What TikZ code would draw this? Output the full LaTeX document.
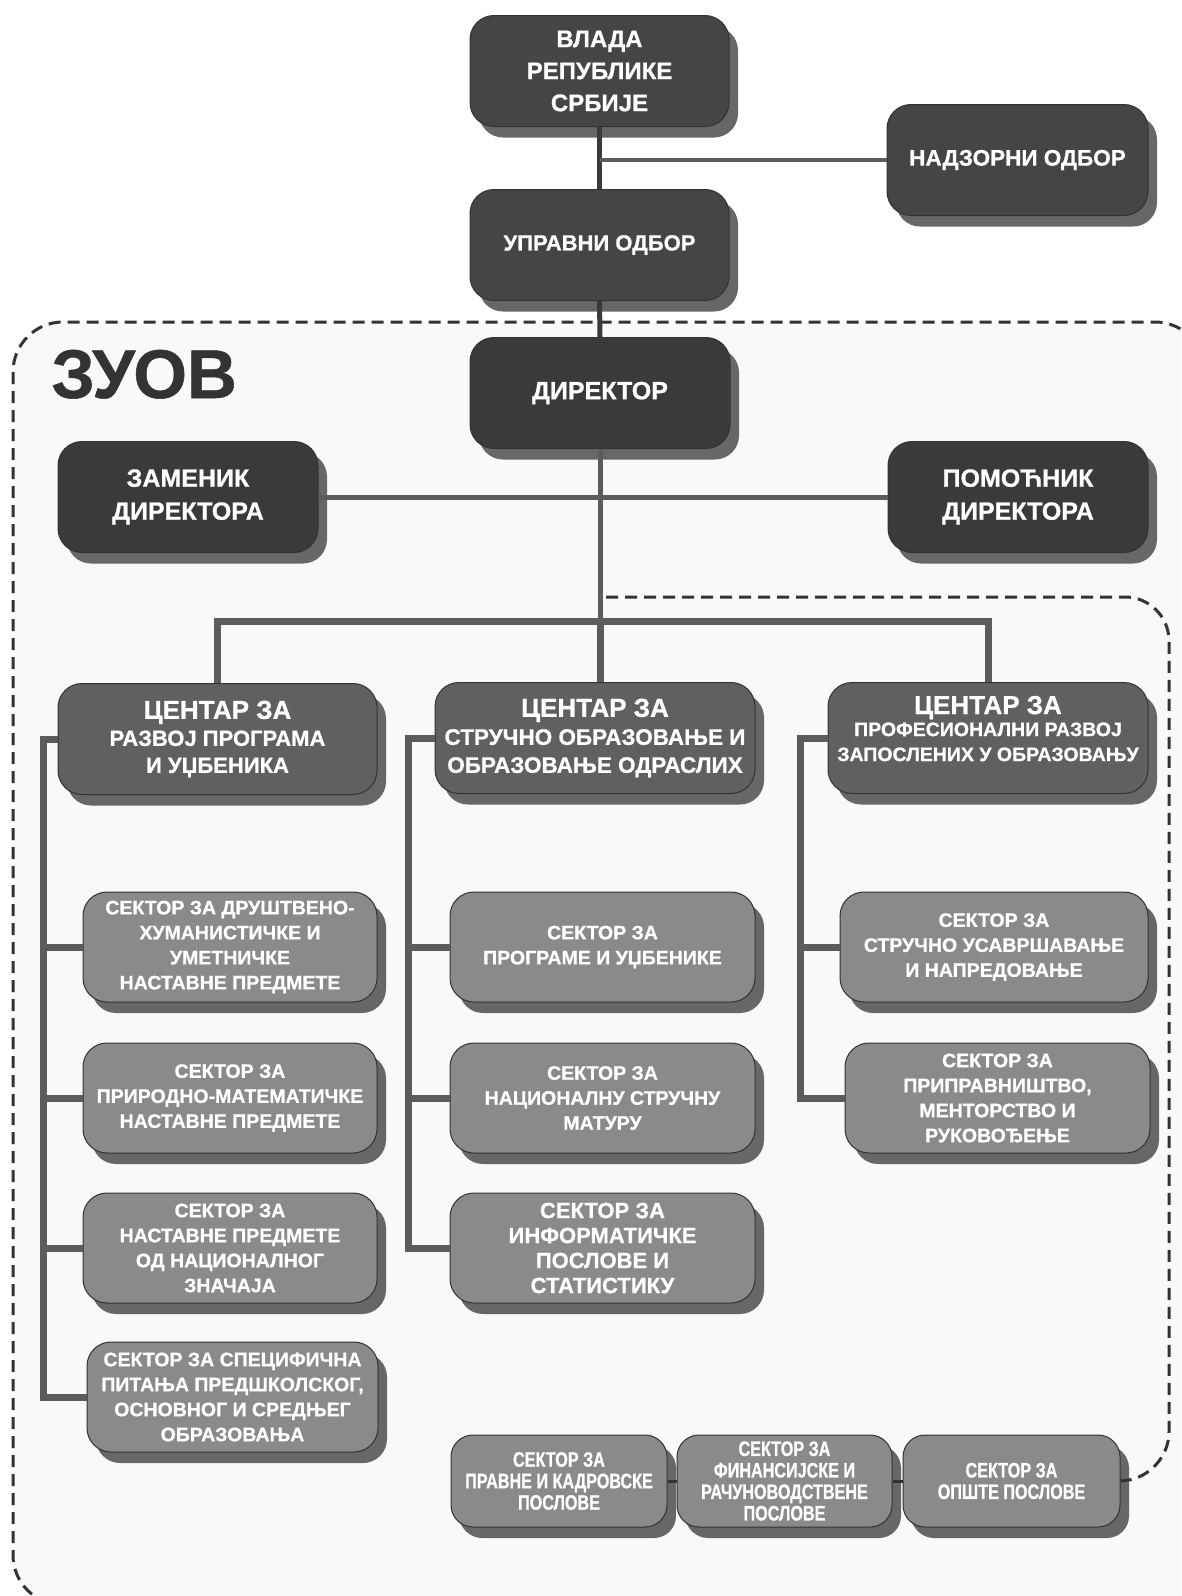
\documentclass[tikz,border=0pt]{standalone}
\usepackage{fontspec}
\setmainfont{Liberation Sans}[BoldFeatures={FakeBold=0.8}]
\newfontfamily\narrowfont{Liberation Sans}[FakeStretch=0.77, BoldFeatures={FakeBold=0.8}]
\usetikzlibrary{shadows}
\definecolor{topgray}{HTML}{454545}
\definecolor{dirgray}{HTML}{3A3A3A}
\definecolor{cengray}{HTML}{606060}
\definecolor{secgray}{HTML}{8A8A8A}
\definecolor{shadowgray}{HTML}{676767}
\definecolor{edgegray}{HTML}{333333}
\definecolor{linegray}{HTML}{5C5C5C}
\definecolor{darkline}{HTML}{3A3A3A}
\definecolor{zonefill}{HTML}{F9F9F9}
\newcommand{\setfs}[2]{\fontsize{#1}{#2}\selectfont}
\tikzset{
  basebox/.style={rounded corners=24pt, line width=1pt, draw=edgegray, align=center,
    text=white, inner sep=1pt,
    drop shadow={shadow xshift=9pt, shadow yshift=-11pt, fill=shadowgray, opacity=1}},
  topbox/.style={basebox, fill=topgray, minimum width=259pt, minimum height=111pt},
  dirbox/.style={basebox, fill=dirgray, minimum width=260pt, minimum height=111pt,
    font=\bfseries\setfs{25}{33}},
  cenbox/.style={basebox, fill=cengray, minimum width=320pt, minimum height=111pt},
  secbox/.style={basebox, fill=secgray, minimum width=296pt, minimum height=110pt,
    font=\bfseries\setfs{19.5}{25}},
  botbox/.style={basebox, fill=secgray, minimum width=216pt, minimum height=92pt,
    rounded corners=22pt, drop shadow={shadow xshift=8pt, shadow yshift=-10pt, fill=shadowgray, opacity=1},
    font=\narrowfont\bfseries\setfs{21}{21.5}},
  darkconn/.style={draw=darkline, line width=5pt},
  grayconn/.style={draw=linegray, line width=7pt},
  midconn/.style={draw=linegray, line width=5pt},
  dashconn/.style={draw=edgegray, line width=3pt, dash pattern=on 12pt off 7pt},
}
\begin{document}
\begin{tikzpicture}[x=1pt,y=-1pt]
\useasboundingbox (0,0) rectangle (1181,1596);
\fill[white] (0,0) rectangle (1181,1596);
\begin{scope}
\clip (0,0) rectangle (1181,1596);
% ZUOV zone
\draw[fill=zonefill, draw=edgegray, line width=3pt, dash pattern=on 12pt off 7pt, rounded corners=50pt]
  (13,322) rectangle (1205,1605);
\end{scope}
\node[anchor=base west, text=edgegray, font=\bfseries\setfs{69}{72}] (zuov) at (48,398) {ЗУОВ};

% top level
\node[topbox, font=\bfseries\setfs{24}{32}] (vlada) at (599.5,71) {ВЛАДА\\РЕПУБЛИКЕ\\СРБИЈЕ};
\node[topbox, minimum width=261pt, font=\bfseries\setfs{22.5}{28}] (nadz) at (1017.5,160) {НАДЗОРНИ ОДБОР};
\node[topbox, font=\bfseries\setfs{22}{28}] (upr) at (599.5,245) {УПРАВНИ ОДБОР};
\node[dirbox] (dir) at (600,393) {ДИРЕКТОР};
\node[dirbox] (zam) at (188,497) {ЗАМЕНИК\\ДИРЕКТОРА};
\node[dirbox] (pom) at (1018,497) {ПОМОЋНИК\\ДИРЕКТОРА};

% centres
\node[cenbox, minimum width=319pt, font=\bfseries\setfs{22}{27}] (c1) at (217.5,739)
  {{\setfs{26}{30}ЦЕНТАР ЗА}\\РАЗВОЈ ПРОГРАМА\\И УЏБЕНИКА};
\node[cenbox, font=\bfseries\setfs{22.5}{28}] (c2) at (595,738)
  {{\setfs{26}{30}ЦЕНТАР ЗА}\\СТРУЧНО ОБРАЗОВАЊЕ И\\ОБРАЗОВАЊЕ ОДРАСЛИХ};
\node[cenbox, font=\bfseries\setfs{19.5}{25}] (c3) at (988,738)
  {{\setfs{26}{30}ЦЕНТАР ЗА}\\[-3pt]ПРОФЕСИОНАЛНИ РАЗВОЈ\\ЗАПОСЛЕНИХ У ОБРАЗОВАЊУ\\[-6pt]\mbox{}};

% sectors column 1
\node[secbox, minimum width=294pt] (s11) at (230,947) {СЕКТОР ЗА ДРУШТВЕНО-\\ХУМАНИСТИЧКЕ И\\УМЕТНИЧКЕ\\НАСТАВНЕ ПРЕДМЕТЕ};
\node[secbox, minimum width=294pt] (s12) at (230,1098) {СЕКТОР ЗА\\ПРИРОДНО-МАТЕМАТИЧКЕ\\НАСТАВНЕ ПРЕДМЕТЕ};
\node[secbox, minimum width=294pt] (s13) at (230,1248) {СЕКТОР ЗА\\НАСТАВНЕ ПРЕДМЕТЕ\\ОД НАЦИОНАЛНОГ\\ЗНАЧАЈА};
\node[secbox, minimum width=291pt] (s14) at (232.5,1397) {СЕКТОР ЗА СПЕЦИФИЧНА\\ПИТАЊА ПРЕДШКОЛСКОГ,\\ОСНОВНОГ И СРЕДЊЕГ\\ОБРАЗОВАЊА};

% sectors column 2
\node[secbox, minimum width=305pt] (s21) at (602.5,947) {СЕКТОР ЗА\\ПРОГРАМЕ И УЏБЕНИКЕ};
\node[secbox, minimum width=305pt] (s22) at (602.5,1098) {СЕКТОР ЗА\\НАЦИОНАЛНУ СТРУЧНУ\\МАТУРУ};
\node[secbox, minimum width=305pt, font=\bfseries\setfs{22}{25}] (s23) at (602.5,1248) {СЕКТОР ЗА\\ИНФОРМАТИЧКЕ\\ПОСЛОВЕ И\\СТАТИСТИКУ};

% sectors column 3
\node[secbox, minimum width=308pt] (s31) at (994,947) {СЕКТОР ЗА\\СТРУЧНО УСАВРШАВАЊЕ\\И НАПРЕДОВАЊЕ};
\node[secbox, minimum width=305pt] (s32) at (997.5,1098) {СЕКТОР ЗА\\ПРИПРАВНИШТВО,\\МЕНТОРСТВО И\\РУКОВОЂЕЊЕ};

% bottom row
\node[botbox] (b1) at (559,1481) {СЕКТОР ЗА\\ПРАВНЕ И КАДРОВСКЕ\\ПОСЛОВЕ};
\node[botbox, minimum width=215pt] (b2) at (784.5,1481) {СЕКТОР ЗА\\ФИНАНСИЈСКЕ И\\РАЧУНОВОДСТВЕНЕ\\ПОСЛОВЕ};
\node[botbox, minimum width=217pt] (b3) at (1011.5,1481) {СЕКТОР ЗА\\ОПШТЕ ПОСЛОВЕ};

% connectors
\coordinate (j1) at (600,160);
\coordinate (bar) at (600,621);
\coordinate (sp1) at (43,739);
\coordinate (sp2) at (408,738);
\coordinate (sp3) at (800,738);
\coordinate (ds) at (606,597);
\coordinate (dc) at (1169,1476);

\draw[darkconn] (vlada.south) -- (upr.north);
\draw[midconn, line width=4pt] (j1) -- (j1 -| nadz.west);
\draw[darkconn] (upr.south) -- (dir.north);
\draw[midconn] (dir.south) -- (bar);
\draw[midconn] (zam.east) -- (pom.west);
\draw[grayconn] (c1.north) |- (bar) -| (c3.north);
\draw[grayconn] (bar) -- (bar |- c2.north);

\draw[grayconn] (c1.west) -- (sp1) |- (s14.west);
\foreach \s in {s11,s12,s13} \draw[grayconn] (sp1 |- \s.west) -- (\s.west);
\draw[grayconn] (c2.west) -- (sp2) |- (s23.west);
\foreach \s in {s21,s22} \draw[grayconn] (sp2 |- \s.west) -- (\s.west);
\draw[grayconn] (c3.west) -- (sp3) |- (s32.west);
\draw[grayconn] (sp3 |- s31.west) -- (s31.west);

\draw[draw=edgegray, line width=3pt] (b1.east) -- (b2.west);
\draw[draw=edgegray, line width=3pt] (b2.east) -- (b3.west);
\draw[dashconn, rounded corners=44pt] (ds) -- (dc |- ds) -- (dc) -- (b3.east);
\end{tikzpicture}
\end{document}
